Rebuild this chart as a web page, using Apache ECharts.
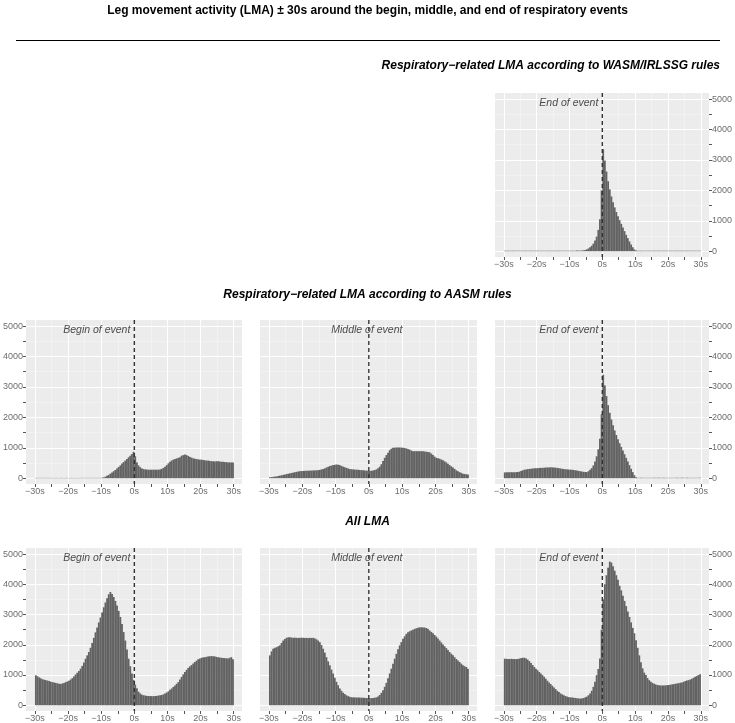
<!DOCTYPE html>
<html lang="en">
<head>
<meta charset="UTF-8">
<title>Leg movement activity</title>
<style>
    html,body{margin:0;padding:0;background:#fff;}
    #chart{width:735px;height:723px;}
</style>
<script src="https://cdn.jsdelivr.net/npm/echarts@6/dist/echarts.min.js"></script>
</head>
<body>
<div id="chart"></div>
<script>
// counts per 0.5 s bin, bin i covers [-30 + i*0.5, -29.5 + i*0.5)
var BIN = 0.5;
var binStart = [];
for (var t = -30; t < 30; t += BIN) binStart.push(t);

var xTicks = [-30, -25, -20, -15, -10, -5, 0, 5, 10, 15, 20, 25, 30];
var xLabels = [-30, -20, -10, 0, 10, 20, 30];
var yTicks = [0, 500, 1000, 1500, 2000, 2500, 3000, 3500, 4000, 4500, 5000];
var yLabels = [0, 1000, 2000, 3000, 4000, 5000];

// WASM/IRLSSG, end of event
var wasmEnd = [
    15,15,15,15,15,15,15,15,15,15,
    15,15,15,15,15,15,15,15,15,15,
    15,15,15,15,15,15,15,15,15,15,
    15,15,15,15,15,15,15,15,15,15,
    15,15,15,15,20,20,20,25,30,40,
    60,90,130,180,250,350,480,700,1050,2000,
    3350,2980,2620,2300,2030,1800,1610,1440,1290,1150,
    1020,900,780,660,540,430,320,220,130,60,
    20,15,15,15,15,15,15,15,15,15,
    15,15,15,15,15,15,15,15,15,15,
    15,15,15,15,15,15,15,15,15,15,
    15,15,15,15,15,15,15,15,15,15
];

// AASM, begin of event
var aasmBegin = [
    10,10,10,10,10,10,10,10,10,10,
    10,10,10,10,10,10,10,10,10,10,
    10,10,10,10,10,10,10,10,10,10,
    10,10,10,10,10,10,10,10,10,10,
    15,30,50,80,110,150,190,230,270,320,
    370,420,480,530,580,630,690,740,800,870,
    720,520,420,360,320,300,290,285,280,280,
    280,280,280,280,280,290,310,340,380,430,
    490,540,580,610,630,650,670,690,740,760,
    780,760,730,700,675,655,640,630,620,610,
    610,600,590,580,580,570,560,560,550,560,
    560,550,540,540,530,530,520,520,520,520
];

// AASM, middle of event
var aasmMid = [
    30,37,45,52,60,72,85,97,110,122,
    135,147,160,172,185,197,210,220,230,235,
    240,243,245,248,250,252,255,257,260,265,
    275,290,300,325,350,375,400,415,430,440,
    450,445,430,405,380,360,340,320,300,295,
    290,285,280,275,270,265,260,255,250,245,
    240,245,255,270,290,330,380,460,570,670,
    760,840,920,970,1000,1005,1010,1010,1010,1005,
    1000,990,980,960,935,910,890,890,890,890,
    890,890,890,880,870,860,850,810,760,710,
    670,655,640,615,590,555,520,475,430,390,
    350,305,260,230,200,175,150,140,130,120
];

// AASM, end of event
var aasmEnd = [
    190,195,200,195,200,200,195,200,205,215,
    240,260,280,290,300,305,310,320,325,330,
    330,335,340,340,345,350,355,355,360,355,
    350,345,340,330,320,310,300,295,290,285,
    280,275,270,260,250,240,230,220,210,205,
    200,230,280,330,420,550,720,950,1300,2100,
    3400,3050,2700,2400,2150,1930,1740,1570,1420,1280,
    1150,1030,910,790,670,550,430,310,200,100,
    30,12,12,12,12,12,12,12,12,12,
    12,12,12,12,12,12,12,12,12,12,
    12,12,12,12,12,12,12,12,12,12,
    12,12,12,12,12,12,12,12,12,12
];

// all LMA, begin of event
var allBegin = [
    990,960,920,890,860,845,830,815,800,780,
    765,755,740,725,710,705,720,740,765,785,
    810,850,895,950,1015,1075,1135,1210,1300,1410,
    1540,1650,1760,1900,2060,2230,2410,2570,2740,2900,
    3070,3240,3400,3540,3670,3745,3680,3580,3450,3300,
    3120,2920,2690,2420,2140,1840,1540,1290,1050,840,
    680,560,450,390,350,330,320,310,305,305,
    300,300,305,310,320,330,340,360,390,420,
    460,510,555,605,655,710,765,850,940,1020,
    1100,1170,1235,1285,1330,1380,1430,1475,1520,1545,
    1570,1580,1590,1600,1615,1620,1625,1620,1615,1600,
    1590,1580,1570,1565,1560,1555,1550,1570,1590,1520
];

// all LMA, middle of event
var allMid = [
    1650,1780,1870,1900,1920,1950,1980,2060,2140,2190,
    2230,2245,2250,2240,2230,2235,2230,2225,2230,2235,
    2230,2225,2230,2220,2230,2225,2230,2210,2180,2140,
    2085,1990,1870,1740,1590,1450,1320,1180,1050,910,
    775,660,555,480,415,370,330,300,280,265,
    260,260,255,260,255,250,250,245,240,235,
    230,235,240,250,260,290,340,410,500,610,
    740,890,1050,1210,1375,1540,1700,1850,1980,2090,
    2195,2280,2360,2410,2445,2475,2500,2525,2545,2560,
    2575,2580,2575,2570,2555,2520,2470,2425,2380,2325,
    2270,2205,2140,2075,2010,1950,1890,1825,1760,1705,
    1650,1590,1530,1480,1430,1375,1320,1290,1265,1210
];

// all LMA, end of event
var allEnd = [
    1540,1535,1530,1530,1535,1530,1530,1525,1530,1545,
    1560,1570,1570,1550,1510,1460,1400,1330,1265,1210,
    1160,1100,1050,995,940,875,810,755,700,645,
    590,535,480,435,390,360,330,305,285,270,
    260,255,250,240,230,225,220,225,240,260,
    285,330,390,480,610,780,995,1200,1550,2500,
    3500,4000,4300,4550,4750,4720,4600,4450,4300,4150,
    3950,3800,3620,3450,3280,3100,2920,2740,2560,2380,
    2150,1900,1650,1420,1220,1080,1000,900,830,780,
    740,710,690,670,660,655,655,655,660,665,
    670,680,690,700,710,720,730,745,755,775,
    800,815,830,850,875,905,940,965,995,1025
];

var panels = [
    {data: wasmEnd,   text: 'End of event',    col: 2, row: 0, axis: 'right'},
    {data: aasmBegin, text: 'Begin of event',  col: 0, row: 1, axis: 'left'},
    {data: aasmMid,   text: 'Middle of event', col: 1, row: 1, axis: null},
    {data: aasmEnd,   text: 'End of event',    col: 2, row: 1, axis: 'right'},
    {data: allBegin,  text: 'Begin of event',  col: 0, row: 2, axis: 'left'},
    {data: allMid,    text: 'Middle of event', col: 1, row: 2, axis: null},
    {data: allEnd,    text: 'End of event',    col: 2, row: 2, axis: 'right'}
];

var colLeft = [25, 260, 495], colWidth = [217, 217, 216];
var rowTop = [93, 320, 548], rowHeight = 164;
var X_MIN = -32.7, X_MAX = 32.5, Y_MIN = -190, Y_MAX = 5200;
var FONT = 'Liberation Sans, Arial, sans-serif';
var evtText = panels.map(function (p) { return p.text; });

function fmtSec(v) {
    return (v < 0 ? '\u2212' + (-v) : v) + 's';
}

function renderBar(params, api) {
    var x0 = api.value(0), y = api.value(1);
    var p0 = api.coord([x0, y]);
    var p1 = api.coord([x0 + BIN, 0]);
    return {
        type: 'rect',
        shape: {x: p0[0], y: p0[1], width: p1[0] - p0[0] + 0.15, height: p1[1] - p0[1]},
        style: {fill: '#626262'}
    };
}

// dashed line at 0 plus the event caption
function renderEvent(params, api) {
    var top = api.coord([0, Y_MAX]);
    var bot = api.coord([0, Y_MIN]);
    var lab = api.coord([0, api.value(1)]);
    var mid = api.value(2) === 1;
    return {
        type: 'group',
        children: [
            {type: 'line', shape: {x1: top[0], y1: top[1], x2: bot[0], y2: bot[1]},
             style: {stroke: '#333', lineWidth: 1.4, lineDash: [4, 3]}},
            {type: 'text', x: lab[0] + (mid ? -2 : -4), y: lab[1],
             style: {text: evtText[api.value(3)], fill: '#4d4d4d', font: 'italic 10.5px ' + FONT,
                     align: mid ? 'center' : 'right', verticalAlign: 'middle'}}
        ]
    };
}

var grids = [], xAxes = [], yAxes = [], series = [];

panels.forEach(function (p, i) {
    grids.push({left: colLeft[p.col], top: rowTop[p.row], width: colWidth[p.col], height: rowHeight,
        show: true, backgroundColor: '#ececec', borderWidth: 0});

    xAxes.push({type: 'value', gridIndex: i, min: X_MIN, max: X_MAX,
        axisLine: {show: true, onZero: false, lineStyle: {color: 'rgba(0,0,0,0)'}},
        splitLine: {show: false},
        axisTick: {show: true, inside: false, customValues: xTicks, length: 3,
            lineStyle: {color: '#555', width: 1}},
        axisLabel: {show: true, customValues: xLabels, formatter: fmtSec, margin: 3,
            color: '#6e6e6e', fontSize: 9, fontFamily: FONT}});

    yAxes.push({type: 'value', gridIndex: i, min: Y_MIN, max: Y_MAX,
        position: p.axis || 'left',
        axisLine: {show: true, onZero: false, lineStyle: {color: 'rgba(0,0,0,0)'}},
        splitLine: {show: false},
        axisTick: {show: !!p.axis, inside: false, customValues: yTicks, length: 3,
            lineStyle: {color: '#555', width: 1}},
        axisLabel: {show: !!p.axis, customValues: yLabels, margin: 3,
            formatter: function (v) { return String(v); },
            color: '#6e6e6e', fontSize: 9, fontFamily: FONT}});

    var minorX = xTicks.filter(function (v) { return v % 10 !== 0; });
    var minorY = yTicks.filter(function (v) { return v % 1000 !== 0; });
    var gridLines = [];
    minorX.forEach(function (v) { gridLines.push({xAxis: v, lineStyle: {color: '#f6f6f6', width: 0.6, type: 'solid'}}); });
    minorY.forEach(function (v) { gridLines.push({yAxis: v, lineStyle: {color: '#f6f6f6', width: 0.6, type: 'solid'}}); });
    xLabels.forEach(function (v) { gridLines.push({xAxis: v, lineStyle: {color: '#ffffff', width: 1.1, type: 'solid'}}); });
    yLabels.forEach(function (v) { gridLines.push({yAxis: v, lineStyle: {color: '#ffffff', width: 1.1, type: 'solid'}}); });

    series.push({type: 'line', xAxisIndex: i, yAxisIndex: i, data: [], z: 1, silent: true,
        markLine: {silent: true, symbol: ['none', 'none'], label: {show: false}, animation: false,
            data: gridLines}});

    series.push({type: 'custom', xAxisIndex: i, yAxisIndex: i, z: 10, silent: true,
        renderItem: renderBar, encode: {x: 0, y: 1},
        data: p.data.map(function (v, k) { return [binStart[k], v]; })});

    series.push({type: 'custom', xAxisIndex: i, yAxisIndex: i, z: 12, silent: true,
        renderItem: renderEvent, encode: {x: 0, y: 1},
        data: [[0, 4880, p.col === 1 ? 1 : 0, i]]});
});

var titleStyle = {fontSize: 12, fontWeight: 'bold', fontStyle: 'italic', color: '#000', fontFamily: FONT};

var chart = echarts.init(document.getElementById('chart'));
chart.setOption({
    animation: false,
    title: [
        {text: 'Leg movement activity (LMA) \u00b1 30s around the begin, middle, and end of respiratory events',
            left: 'center', top: 5, padding: 0,
            textStyle: {fontSize: 12, fontWeight: 'bold', color: '#000', fontFamily: FONT}},
        {text: 'Respiratory\u2212related LMA according to WASM/IRLSSG rules', right: 15, top: 60, padding: 0, textStyle: titleStyle},
        {text: 'Respiratory\u2212related LMA according to AASM rules', left: 'center', top: 289, padding: 0, textStyle: titleStyle},
        {text: 'All LMA', left: 'center', top: 516, padding: 0, textStyle: titleStyle}
    ],
    graphic: [
        {type: 'line', shape: {x1: 16, y1: 40.5, x2: 720, y2: 40.5}, style: {stroke: '#000', lineWidth: 1}}
    ],
    grid: grids,
    xAxis: xAxes,
    yAxis: yAxes,
    series: series
});
</script>
</body>
</html>
